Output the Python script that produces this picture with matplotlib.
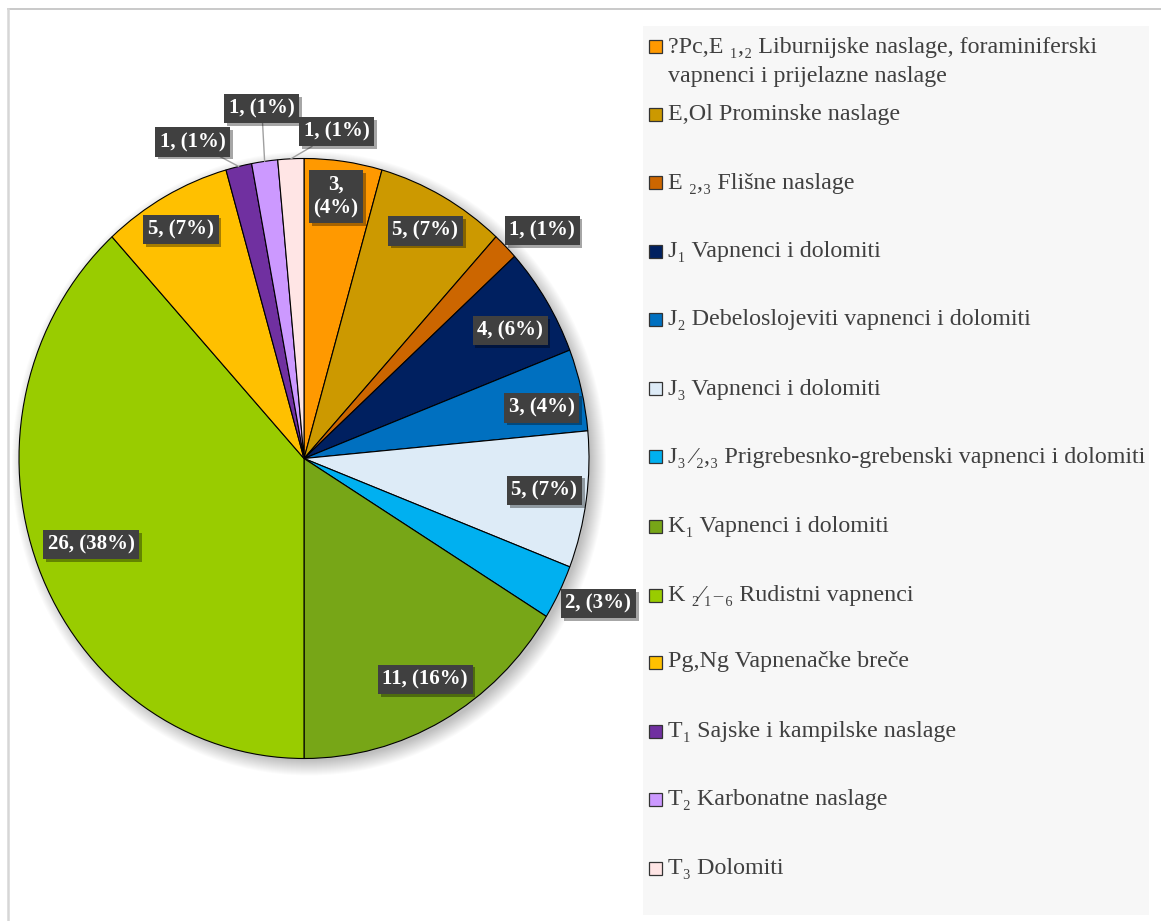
import numpy as np
import matplotlib
matplotlib.use("Agg")
import matplotlib.pyplot as plt
from matplotlib.patches import Ellipse, Rectangle
from matplotlib.lines import Line2D
import matplotlib.patheffects as pe

# ---------------- data ----------------
categories = [
    "?Pc,E \u2081,\u2082 Liburnijske naslage, foraminiferski\nvapnenci i prijelazne naslage",
    "E,Ol Prominske naslage",
    "E \u2082,\u2083 Flišne naslage",
    "J\u2081 Vapnenci i dolomiti",
    "J\u2082 Debeloslojeviti vapnenci i dolomiti",
    "J\u2083 Vapnenci i dolomiti",
    "J\u2083 \u2044\u2082,\u2083 Prigrebesnko-grebenski vapnenci i dolomiti",
    "K\u2081 Vapnenci i dolomiti",
    "K \u2082\u2044\u2081\u208b\u2086 Rudistni vapnenci",
    "Pg,Ng Vapnenačke breče",
    "T\u2081 Sajske i kampilske naslage",
    "T\u2082 Karbonatne naslage",
    "T\u2083 Dolomiti",
]
values = [3, 5, 1, 4, 3, 5, 2, 11, 26, 5, 1, 1, 1]
colors = ["#FF9900", "#CC9900", "#CC6600", "#002060", "#0070C0", "#DDEBF7",
          "#00B0F0", "#77A617", "#99CC00", "#FFC000", "#7030A0", "#CC99FF",
          "#FFE5E5"]

# ---------------- layout ----------------
W, H = 1161, 921
# label placement: (radius, angle shift in degrees), relative to wedge mid-angle
label_place = [(0.88, -0.6), (0.87, 0.2), (1.13, 2.7), (0.84, 1.2), (0.85, 1.8),
               (0.85, -0.8), (1.14, -1.4), (0.85, -0.9), (0.80, 0.2), (0.876, -0.4),
               (1.125, -7.1), (1.175, 0.7), (1.095, 8.7)]
leader = [False] * 10 + [True, True, True]
two_line = [True] + [False] * 12

serif = ["Liberation Serif", "DejaVu Serif"]

fig = plt.figure(figsize=(W / 100, H / 100), dpi=100)
fig.patch.set_facecolor("white")

def fx(px):
    return px / W

def fy(py):
    return 1 - py / H

# outer border (top and left visible)
fig.add_artist(Line2D([fx(8), 1.0], [fy(9), fy(9)], color="#c0c0c0", lw=1.2))
fig.add_artist(Line2D([fx(8), fx(8)], [fy(9), 0.0], color="#d6d6d6", lw=1.8))

# legend panel
fig.add_artist(Rectangle((fx(643), fy(915)), fx(1149) - fx(643), fy(26) - fy(915),
                         transform=fig.transFigure, facecolor="#F7F7F7",
                         edgecolor="none", zorder=0))

# pie axes: centre (304, 458.5), rx 285, ry 300
cx, cy, rx, ry = 304, 458.5, 285, 300
ax = fig.add_axes([fx(cx - rx), fy(cy + ry), 2 * rx / W, 2 * ry / H])
ax.set_axis_off()

# soft shadow
for k in range(16):
    e = Ellipse((5 / rx, -5 / ry), 2 * (1 + (k - 3) / rx), 2 * (1 + (k - 3) / ry),
                facecolor="black", edgecolor="none", alpha=0.016, zorder=0,
                clip_on=False)
    ax.add_patch(e)

wedges, _ = ax.pie(values, colors=colors, startangle=90, counterclock=False,
                   wedgeprops=dict(edgecolor="black", linewidth=0.8))
for w in wedges:
    w.set_zorder(2)
ax.set_aspect("auto")
ax.set_xlim(-1, 1)
ax.set_ylim(-1, 1)

total = sum(values)
cum = np.cumsum([0] + values[:-1])
for i, v in enumerate(values):
    mid = (cum[i] + v / 2) / total * 360.0
    r, dth = label_place[i]
    th = np.deg2rad(mid + dth)
    lx, ly = r * np.sin(th), r * np.cos(th)
    pct = round(100 * v / total)
    txt = f"{v},\n({pct}%)" if two_line[i] else f"{v}, ({pct}%)"
    ex, ey = np.sin(np.deg2rad(mid)), np.cos(np.deg2rad(mid))
    kw = {}
    if leader[i]:
        kw["arrowprops"] = dict(arrowstyle="-", color="#a0a0a0", lw=1.0,
                                shrinkA=0, shrinkB=0)
    t = ax.annotate(txt, xy=(ex, ey), xytext=(lx, ly), ha="center", va="center",
                    color="white", fontweight="bold", fontsize=15,
                    family=serif, linespacing=1.25, zorder=5,
                    bbox=dict(boxstyle="square,pad=0.22", facecolor="#404040",
                              edgecolor="none"),
                    annotation_clip=False, **kw)
    t.get_bbox_patch().set_path_effects(
        [pe.SimplePatchShadow(offset=(2, -2), shadow_rgbFace="black", alpha=0.35),
         pe.Normal()])

# legend
leg_y = [62, 114, 183, 252, 320, 389, 457, 526, 595, 662, 731, 799, 868]
sq = 13
for i, (lab, col) in enumerate(zip(categories, colors)):
    y = leg_y[i]
    ysq = 47 if i == 0 else y
    fig.add_artist(Rectangle((fx(649), fy(ysq + sq / 2)), sq / W, sq / H,
                             transform=fig.transFigure, facecolor=col,
                             edgecolor="#333333", lw=0.9, zorder=3))
    fig.text(fx(668), fy(y), lab, ha="left", va="center", fontsize=17.3,
             family=serif, color="#404040", linespacing=1.45)

fig.savefig("out.png", dpi=100)
